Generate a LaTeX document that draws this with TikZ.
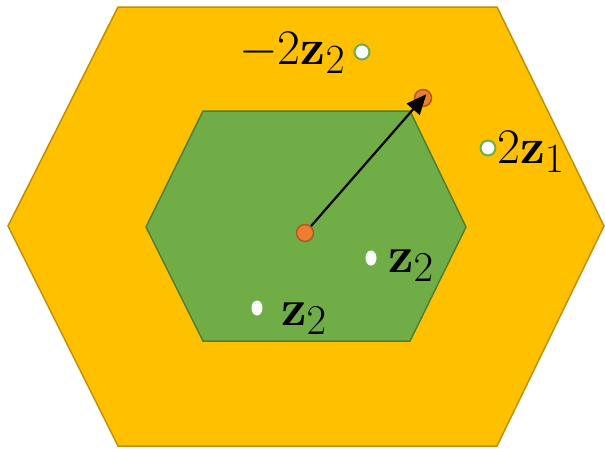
\documentclass[tikz,border=0pt]{standalone}
\usepackage{graphicx}
\usetikzlibrary{shapes.geometric,arrows.meta}
\definecolor{gold}{HTML}{FFC000}
\definecolor{goldline}{HTML}{BF9000}
\definecolor{leaf}{HTML}{70AD47}
\definecolor{leafline}{HTML}{507E32}
\definecolor{orng}{HTML}{ED7D31}
\definecolor{orngline}{HTML}{AE5A21}
\newcommand{\hexlbl}[2]{\scalebox{#1}{\Huge$#2$}}
\tikzset{
  hexouter/.style={fill=gold, draw=goldline, line width=1.5pt, line join=miter},
  hexinner/.style={fill=leaf, draw=leafline, line width=1.5pt},
  odot/.style={circle, fill=orng, draw=orngline, line width=1.5pt, minimum size=17pt, inner sep=0pt},
  ring/.style={circle, fill=white, draw=leaf, line width=2pt, minimum size=15pt, inner sep=0pt},
  wdot/.style={ellipse, fill=white, minimum width=11pt, minimum height=15pt, inner sep=0pt},
  lbl/.style={anchor=base west, inner sep=0pt},
  vec/.style={line width=2.2pt, shorten >=-5pt, -{Triangle[length=20pt, width=17pt]}}
}
\begin{document}
\begin{tikzpicture}[x=1pt, y=-1pt]
\useasboundingbox (0,0) rectangle (605,448);
\path[hexouter] (118,7) -- (497,7) -- (604,226) -- (497,446) -- (118,446) -- (8,226) -- cycle;
\path[hexinner] (203,111) -- (410,111) -- (466,227) -- (410,341) -- (203,341) -- (146,227) -- cycle;
\node[odot] (c) at (305,233) {};
\node[odot] (t) at (423,98) {};
\draw[vec] (c) -- (t.center);
\node[ring] (r1) at (362,52) {};
\node[ring] (r2) at (488,148) {};
\node[wdot] (w1) at (371,258) {};
\node[wdot] (w2) at (257,308) {};
\node[lbl] (l1) at (239,64) {\hexlbl{2.0}{-2\mathbf{z}_2}};
\node[lbl] (l2) at (497,163) {\hexlbl{2.0}{2\mathbf{z}_1}};
\node[lbl] (l3) at (388,272) {\hexlbl{2.05}{\mathbf{z}_2}};
\node[lbl] (l4) at (281,325) {\hexlbl{2.05}{\mathbf{z}_2}};
\end{tikzpicture}
\end{document}
